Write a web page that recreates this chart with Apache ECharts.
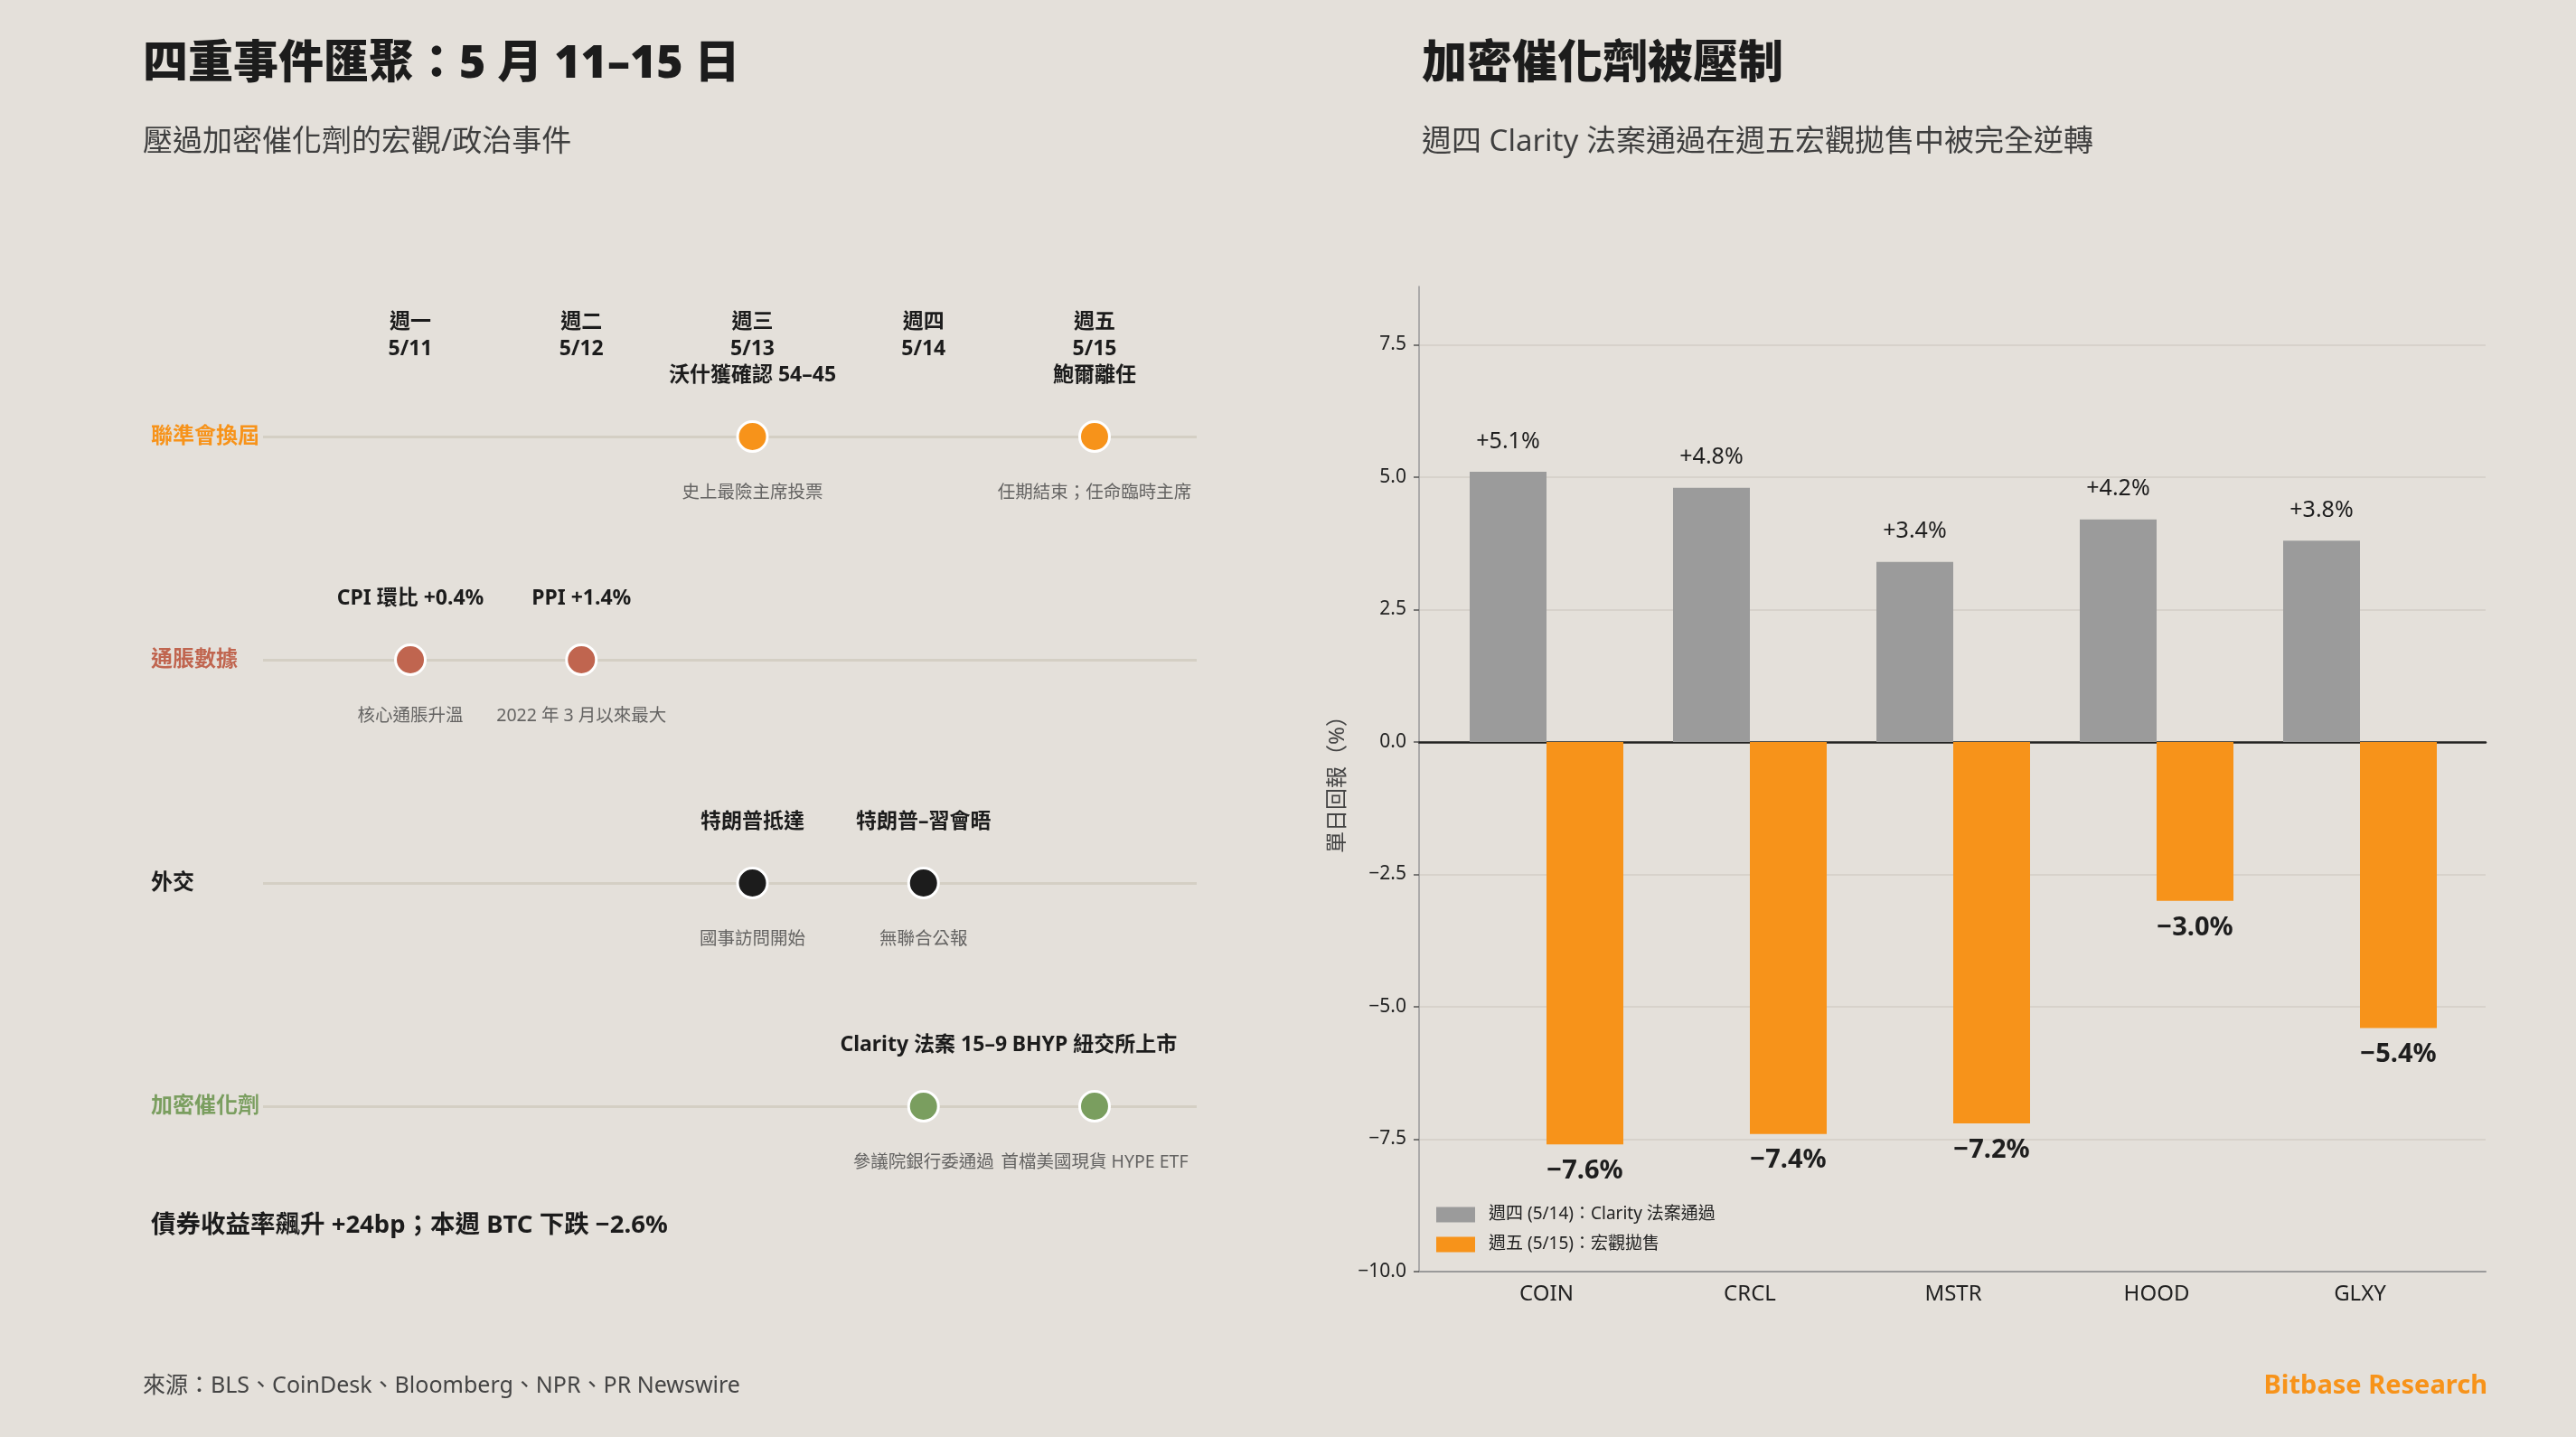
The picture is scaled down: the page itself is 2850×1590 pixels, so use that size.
<!DOCTYPE html>
<html><head><meta charset="utf-8">
<script src="https://cdn.jsdelivr.net/npm/echarts@6/dist/echarts.min.js"></script>
<style>html,body{margin:0;padding:0;background:#E4E0DA}#c{width:2850px;height:1590px}</style>
</head><body><div id="c"></div>
<script>
// ---- right chart data ----
const tickers = ['COIN', 'CRCL', 'MSTR', 'HOOD', 'GLXY'];
const thuReturns = [5.1, 4.8, 3.4, 4.2, 3.8];
const friReturns = [-7.6, -7.4, -7.2, -3.0, -5.4];
const seriesNames = ['週四 (5/14)：Clarity 法案通過', '週五 (5/15)：宏觀拋售'];
const yTicks = [-10, -7.5, -5, -2.5, 0, 2.5, 5, 7.5];

// ---- timeline data ----
const weekdays = ['週一', '週二', '週三', '週四', '週五'];
const dates = ['5/11', '5/12', '5/13', '5/14', '5/15'];
const rows = ['聯準會換屆', '通脹數據', '外交', '加密催化劑'];
const eventDay = [2, 4, 0, 1, 2, 3, 3, 4];
const eventRow = [0, 0, 1, 1, 2, 2, 3, 3];
const eventTitle = ['沃什獲確認 54–45', '鮑爾離任', 'CPI 環比 +0.4%', 'PPI +1.4%', '特朗普抵達', '特朗普–習會晤', 'Clarity 法案 15–9', 'BHYP 紐交所上市'];
const eventNote = ['史上最險主席投票', '任期結束；任命臨時主席', '核心通脹升溫', '2022 年 3 月以來最大', '國事訪問開始', '無聯合公報', '參議院銀行委通過', '首檔美國現貨 HYPE ETF'];

// ---- styles ----
const FF = "'Noto Sans', 'Noto Sans CJK TC', sans-serif";
const rowColors = ['#F7931A', '#C0654F', '#1C1C1C', '#7A9E5F'];
const BG = '#E4E0DA';
const INK = '#1C1C1C';

const rich = {};
rows.forEach((r, i) => { rich['r' + i] = { color: rowColors[i], fontSize: 24, fontWeight: 'bold', fontFamily: FF }; });

const fmtNum = v => (v < 0 ? '−' : '') + Math.abs(v).toFixed(1);
const isTick = v => yTicks.some(t => Math.abs(t - v) < 1e-6);

const pts = eventDay.map((d, i) => ({ value: [d, eventRow[i]], itemStyle: { color: rowColors[eventRow[i]] } }));
const ptsNote = eventDay.map((d, i) => ({ value: [d, eventRow[i]] }));

const chart = echarts.init(document.getElementById('c'), null, { renderer: 'canvas' });
chart.setOption({
  backgroundColor: BG,
  animation: false,
  textStyle: { fontFamily: FF },
  grid: [
    { left: 291, right: 1526, top: 483, bottom: 366 },
    { left: 359.4, right: 1544.4, top: 483, bottom: 366 },
    { left: 1570, right: 100, top: 317, bottom: 183 },
    { left: 1598.5, right: 126.5, top: 317, bottom: 183 }
  ],
  xAxis: [
    { gridIndex: 0, type: 'value', min: 0, max: 1, show: false },
    { gridIndex: 1, type: 'category', data: dates, position: 'top',
      axisLine: { show: false }, axisTick: { show: false }, splitLine: { show: false },
      axisLabel: { margin: 82, fontSize: 23, fontWeight: 'bold', color: INK, lineHeight: 30, fontFamily: FF,
        formatter: (v, i) => weekdays[i] + '\n' + v } },
    { gridIndex: 2, type: 'value', min: 0, max: 1, position: 'bottom',
      axisLine: { onZero: false, lineStyle: { color: '#9A9A9A', width: 2 } },
      axisTick: { show: false }, axisLabel: { show: false }, splitLine: { show: false } },
    { gridIndex: 2, type: 'value', min: 0, max: 1, position: 'top',
      axisLine: { onZero: true, lineStyle: { color: '#222', width: 2.5 } },
      axisTick: { show: false }, axisLabel: { show: false }, splitLine: { show: false } },
    { gridIndex: 3, type: 'category', data: tickers,
      axisLine: { show: false },
      axisTick: { alignWithLabel: true, length: 6, lineStyle: { color: '#555', width: 1.5 } },
      axisLabel: { margin: 13, fontSize: 24, color: '#222', fontFamily: FF } }
  ],
  yAxis: [
    { gridIndex: 0, type: 'value', min: 0, max: 3, interval: 1, inverse: true,
      axisLine: { show: false }, axisTick: { show: false },
      splitLine: { show: true, lineStyle: { color: '#D4CFC4', width: 3 } },
      axisLabel: { align: 'left', margin: 124, formatter: v => `{r${v}|${rows[v]}}`, rich: rich } },
    { gridIndex: 1, type: 'value', min: 0, max: 3, inverse: true, show: false },
    { gridIndex: 2, type: 'value', min: -10, max: 8.6, interval: 2.5,
      name: '單日回報（%）', nameLocation: 'middle', nameGap: 78,
      nameTextStyle: { fontSize: 24, color: '#444', fontFamily: FF },
      axisLine: { show: true, lineStyle: { color: '#9A9A9A', width: 1.5 } },
      axisTick: { show: true, length: 6, lineStyle: { color: '#555', width: 1.5 }, customValues: yTicks },
      axisLabel: { margin: 14, fontSize: 21, color: '#222', fontFamily: FF,
        customValues: yTicks, formatter: v => isTick(v) ? fmtNum(v) : '' },
      splitLine: { show: true, lineStyle: { color: '#D3CEC6', width: 1.5 } } },
    { gridIndex: 3, type: 'value', min: -10, max: 8.6, show: false }
  ],
  legend: {
    data: seriesNames, orient: 'vertical', left: 1589, top: 1334, padding: 0,
    itemWidth: 43, itemHeight: 17, itemGap: 13, icon: 'rect',
    textStyle: { fontSize: 19, color: '#222', fontFamily: FF, lineHeight: 20, padding: [0, 0, 0, 10] }
  },
  series: [
    { type: 'bar', name: seriesNames[0], xAxisIndex: 4, yAxisIndex: 3, data: thuReturns,
      barWidth: 85, barGap: '0%', itemStyle: { color: '#9B9B9B' },
      label: { show: true, position: 'top', distance: 21, fontSize: 25, color: '#1E1E1E', fontFamily: FF,
        formatter: p => '+' + p.value.toFixed(1) + '%' } },
    { type: 'bar', name: seriesNames[1], xAxisIndex: 4, yAxisIndex: 3, data: friReturns,
      barWidth: 85, barGap: '0%', itemStyle: { color: '#F7931A' },
      label: { show: true, position: 'bottom', distance: 15, fontSize: 29, fontWeight: 'bold', color: '#1E1E1E', fontFamily: FF,
        formatter: p => fmtNum(p.value) + '%' } },
    { type: 'scatter', xAxisIndex: 1, yAxisIndex: 1, data: ptsNote, symbolSize: 33,
      itemStyle: { color: 'rgba(0,0,0,0)', borderWidth: 0 }, z: 1,
      label: { show: true, position: 'bottom', distance: 36, fontSize: 19.5, color: '#444', fontFamily: FF,
        formatter: p => eventNote[p.dataIndex] } },
    { type: 'scatter', xAxisIndex: 1, yAxisIndex: 1, data: pts, symbolSize: 33, z: 3,
      itemStyle: { borderColor: '#FFFFFF', borderWidth: 3, opacity: 1 },
      label: { show: true, position: 'top', distance: 38, fontSize: 23, fontWeight: 'bold', color: INK, fontFamily: FF,
        formatter: p => eventTitle[p.dataIndex] } }
  ],
  graphic: [
    { type: 'text', x: 158, y: 72, style: { text: '四重事件匯聚：5 月 11–15 日', fontSize: 50, fontWeight: 900, fontFamily: FF, fill: INK, verticalAlign: 'middle' } },
    { type: 'text', x: 158, y: 158, style: { text: '壓過加密催化劑的宏觀/政治事件', fontSize: 33, fontFamily: FF, fill: '#3F3F3F', verticalAlign: 'middle' } },
    { type: 'text', x: 1573, y: 72, style: { text: '加密催化劑被壓制', fontSize: 50, fontWeight: 900, fontFamily: FF, fill: INK, verticalAlign: 'middle' } },
    { type: 'text', x: 1573, y: 158, style: { text: '週四 Clarity 法案通過在週五宏觀拋售中被完全逆轉', fontSize: 33, fontFamily: FF, fill: '#3F3F3F', verticalAlign: 'middle' } },
    { type: 'text', x: 167, y: 1356, style: { text: '債券收益率飆升 +24bp；本週 BTC 下跌 −2.6%', fontSize: 27.5, fontWeight: 'bold', fontFamily: FF, fill: INK, verticalAlign: 'middle' } },
    { type: 'text', x: 158, y: 1534, style: { text: '來源：BLS、CoinDesk、Bloomberg、NPR、PR Newswire', fontSize: 25, fontFamily: FF, fill: '#444', verticalAlign: 'middle' } },
    { type: 'text', x: 2752, y: 1534, style: { text: 'Bitbase Research', fontSize: 29, fontWeight: 'bold', fontFamily: FF, fill: '#F7931A', align: 'right', verticalAlign: 'middle' } }
  ]
});
</script>
</body></html>
